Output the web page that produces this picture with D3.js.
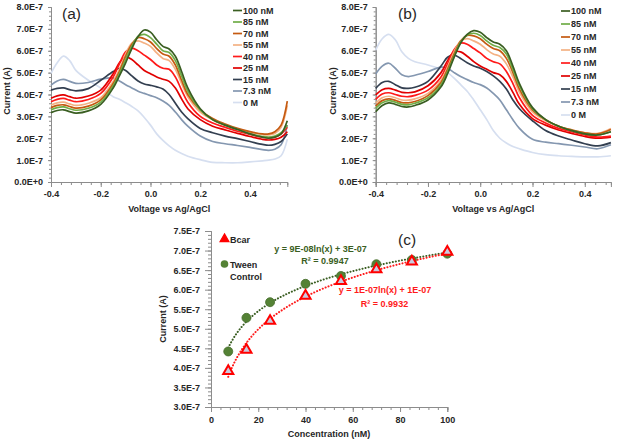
<!DOCTYPE html>
<html><head><meta charset="utf-8">
<script src="https://cdn.jsdelivr.net/npm/d3@7"></script>
<style>
html,body{margin:0;padding:0;background:#fff;}
svg{display:block;}
text{font-family:"Liberation Sans",Arial,sans-serif;fill:#262626;}
</style></head>
<body><svg id="c" width="618" height="443"></svg>
<script>
// ---------- DATA (currents in units of 1E-7 A) ----------
const seriesLabels = ["100 nM","85 nM","70 nM","55 nM","40 nM","25 nM","15 nM","7.3 nM","0 M"];
const seriesColors = ["#3a5e22","#70ad47","#c55a11","#f4b183","#ff1a1a","#e00000","#333f50","#8497b0","#d6dff0"];

const voltA = [-0.4,-0.375,-0.35,-0.325,-0.3,-0.25,-0.2,-0.15,-0.125,-0.1,-0.075,-0.05,-0.025,0,0.025,0.05,0.075,0.1,0.125,0.15,0.2,0.25,0.3,0.35,0.4,0.45,0.475,0.5,0.525,0.55];
const a100 = [3.17,3.27,3.3,3.22,3.15,3.25,3.55,4.3,4.85,5.45,6.1,6.65,6.95,6.85,6.5,6.2,6.08,5.75,5.05,4.3,3.35,2.85,2.6,2.4,2.2,2.05,2.0,2.05,2.2,2.8];
const a85  = [3.3,3.4,3.43,3.35,3.28,3.37,3.65,4.4,4.95,5.6,6.2,6.65,6.75,6.6,6.3,6.0,5.92,5.55,4.85,4.15,3.3,2.85,2.6,2.4,2.2,2.08,2.05,2.1,2.25,2.6];
const a70  = [3.4,3.5,3.53,3.45,3.38,3.47,3.75,4.5,5.05,5.75,6.3,6.6,6.55,6.4,6.1,5.85,5.75,5.35,4.65,4.0,3.3,2.9,2.65,2.45,2.3,2.2,2.2,2.3,2.6,3.7];
const a55  = [3.52,3.62,3.65,3.57,3.5,3.6,3.85,4.6,5.15,5.85,6.35,6.45,6.35,6.2,5.9,5.65,5.55,5.15,4.5,3.9,3.2,2.85,2.6,2.42,2.28,2.17,2.15,2.22,2.5,3.5];
const a40  = [3.67,3.78,3.82,3.74,3.67,3.77,4.05,4.8,5.4,5.95,6.12,6.0,5.8,5.6,5.35,5.2,5.15,4.8,4.2,3.65,3.0,2.7,2.5,2.32,2.18,2.05,2.02,2.05,2.2,2.5];
const a25  = [3.83,3.94,3.98,3.9,3.83,3.93,4.2,4.95,5.45,5.72,5.6,5.35,5.1,4.95,4.8,4.7,4.6,4.3,3.8,3.35,2.85,2.55,2.38,2.22,2.08,1.95,1.92,1.95,2.05,2.3];
const a15  = [4.2,4.28,4.3,4.22,4.17,4.27,4.65,5.05,5.2,5.1,4.85,4.62,4.48,4.42,4.35,4.25,4.0,3.6,3.2,2.9,2.45,2.25,2.1,1.98,1.85,1.72,1.68,1.72,1.85,2.2];
const a7   = [4.43,4.62,4.69,4.6,4.51,4.55,4.7,4.75,4.62,4.45,4.3,4.15,4.05,3.95,3.85,3.7,3.5,3.2,2.85,2.55,2.1,1.85,1.75,1.67,1.58,1.48,1.45,1.5,1.7,2.6];
const a0   = [4.97,5.45,5.75,5.55,5.1,4.65,4.3,3.9,3.78,3.62,3.45,3.25,2.95,2.6,2.2,1.9,1.65,1.45,1.3,1.18,1.02,0.9,0.88,0.88,0.92,0.97,1.0,1.05,1.2,1.95];

const voltB = [-0.4,-0.375,-0.35,-0.325,-0.3,-0.275,-0.25,-0.2,-0.15,-0.125,-0.1,-0.075,-0.05,-0.025,0,0.025,0.05,0.075,0.1,0.125,0.15,0.2,0.25,0.3,0.35,0.4,0.45,0.5];
const b100 = [3.21,3.5,3.62,3.55,3.45,3.43,3.5,3.75,4.35,4.95,5.7,6.35,6.75,6.92,6.85,6.6,6.4,6.3,6.0,5.3,4.5,3.4,2.85,2.55,2.35,2.2,2.15,2.3];
const b85  = [3.37,3.62,3.72,3.65,3.55,3.53,3.6,3.85,4.45,5.05,5.75,6.4,6.72,6.8,6.7,6.45,6.25,6.15,5.85,5.15,4.4,3.35,2.85,2.55,2.35,2.2,2.15,2.3];
const b70  = [3.47,3.72,3.8,3.73,3.63,3.62,3.68,3.95,4.55,5.15,5.85,6.45,6.7,6.68,6.55,6.3,6.1,6.0,5.65,5.0,4.25,3.3,2.85,2.55,2.38,2.25,2.2,2.4];
const b55  = [3.6,3.85,3.92,3.85,3.75,3.74,3.8,4.05,4.65,5.25,5.95,6.45,6.55,6.45,6.3,6.05,5.85,5.75,5.4,4.8,4.1,3.2,2.8,2.55,2.38,2.25,2.22,2.45];
const b40  = [3.78,4.02,4.08,4.0,3.92,3.9,3.96,4.2,4.8,5.4,6.05,6.35,6.3,6.1,5.9,5.65,5.5,5.4,5.05,4.5,3.85,3.05,2.7,2.45,2.3,2.15,2.05,2.1];
const b25  = [3.98,4.22,4.28,4.2,4.1,4.08,4.12,4.4,5.0,5.55,5.95,5.95,5.75,5.5,5.3,5.15,5.0,4.9,4.6,4.1,3.55,2.9,2.6,2.38,2.22,2.08,2.0,2.05];
const b15  = [4.28,4.55,4.6,4.45,4.3,4.28,4.33,4.6,5.3,5.7,5.8,5.65,5.45,5.3,5.2,5.05,4.85,4.6,4.25,3.75,3.35,2.8,2.35,2.1,1.92,1.75,1.65,1.8];
const b7   = [4.94,5.3,5.43,5.2,4.9,4.82,4.88,5.05,5.25,5.2,5.0,4.82,4.68,4.55,4.45,4.3,4.05,3.75,3.3,2.85,2.45,1.95,1.82,1.75,1.68,1.6,1.52,1.7];
const b0   = [6.03,6.55,6.75,6.5,5.95,5.65,5.5,5.35,5.15,5.0,4.75,4.45,4.15,3.75,3.3,2.85,2.35,2.0,1.78,1.62,1.52,1.35,1.25,1.2,1.17,1.15,1.15,1.2];

const yTicksAB = [0,1,2,3,4,5,6,7,8];
const yTickLabelsAB = ["0.0E+0","1.0E-7","2.0E-7","3.0E-7","4.0E-7","5.0E-7","6.0E-7","7.0E-7","8.0E-7"];
const xTicksAB = [-0.4,-0.2,0,0.2,0.4];
const xTickLabelsAB = ["-0.4","-0.2","0.0","0.2","0.4"];

const concC = [7.3,15,25,40,55,70,85,100];
const bcarC = [3.92,4.46,5.2,5.84,6.22,6.52,6.72,6.97];
const tweenC = [4.42,5.28,5.68,6.15,6.35,6.65,6.76,6.92];
const yTicksC = [3.0,3.5,4.0,4.5,5.0,5.5,6.0,6.5,7.0,7.5];
const yTickLabelsC = ["3.0E-7","3.5E-7","4.0E-7","4.5E-7","5.0E-7","5.5E-7","6.0E-7","6.5E-7","7.0E-7","7.5E-7"];
const xTicksC = [0,20,40,60,80,100];
const eqTween = ["y = 9E-08ln(x) + 3E-07","R\u00b2 = 0.9947"];
const eqBcar = ["y = 1E-07ln(x) + 1E-07","R\u00b2 = 0.9932"];

// ---------- DRAW ----------
const svg = d3.select("#c");
const AX = "#8c8c8c";
const F = "Liberation Sans, Arial, sans-serif";

function styleAxis(g){
  g.select(".domain").attr("stroke",AX).attr("stroke-width",1);
  g.selectAll(".tick line").attr("stroke",AX);
  g.selectAll(".tick text").attr("font-family",F).attr("font-weight","bold").attr("font-size",9).attr("fill","#262626");
}

function cvPanel(opt){
  const x = d3.scaleLinear().domain(opt.xDom).range(opt.xRange);
  const y = d3.scaleLinear().domain([0,8]).range([182,7]);
  const g = svg.append("g");
  const minor = d3.range(Math.round(opt.xDom[0]*100), Math.round(opt.xDom[1]*100)+1, 4).map(v=>v/100);
  g.append("g").attr("transform",`translate(0,${y(0)})`)
    .call(d3.axisBottom(x).tickValues(minor).tickSize(3).tickFormat(""))
    .call(styleAxis);
  g.append("g").attr("transform",`translate(0,${y(0)})`)
    .call(d3.axisBottom(x).tickValues(xTicksAB).tickSize(5).tickPadding(4).tickFormat((d,i)=>xTickLabelsAB[i]))
    .call(styleAxis);
  g.append("g").attr("transform",`translate(${x(opt.xDom[0])},0)`)
    .call(d3.axisLeft(y).tickValues(d3.range(0,41,1).map(v=>v/5)).tickSize(2).tickFormat(""))
    .call(styleAxis);
  g.append("g").attr("transform",`translate(${x(opt.xDom[0])},0)`)
    .call(d3.axisLeft(y).tickValues(yTicksAB).tickSize(3).tickPadding(5).tickFormat((d,i)=>yTickLabelsAB[i]))
    .call(styleAxis);
  const line = d3.line().x((d,i)=>x(opt.volts[i])).y(d=>y(d)).curve(d3.curveCatmullRom.alpha(0.5));
  for(let k=opt.series.length-1;k>=0;k--){
    g.append("path").attr("d",line(opt.series[k])).attr("fill","none")
      .attr("stroke",seriesColors[k]).attr("stroke-width",1.7);
  }
  seriesLabels.forEach((lab,i)=>{
    const yy = opt.legY + i*opt.legDy;
    g.append("line").attr("x1",opt.legX).attr("x2",opt.legX+9).attr("y1",yy).attr("y2",yy)
      .attr("stroke",seriesColors[i]).attr("stroke-width",1.7);
    g.append("text").attr("x",opt.legX+10).attr("y",yy+3.3).attr("font-size",9).attr("font-weight","bold").text(lab);
  });
  g.append("text").attr("x",opt.tagX).attr("y",18.5).attr("font-size",15.5).text(opt.tag);
  g.append("text").attr("x",(x(opt.xDom[0])+x(opt.xDom[1]))/2).attr("y",212).attr("text-anchor","middle")
    .attr("font-size",9).attr("font-weight","bold").text("Voltage vs Ag/AgCl");
  g.append("text").attr("transform",`translate(${opt.ylabX},${opt.ylabY}) rotate(-90)`).attr("text-anchor","middle")
    .attr("font-size",9).attr("font-weight","bold").text("Current (A)");
}

cvPanel({xDom:[-0.4,0.55], xRange:[51,287.3], volts:voltA, series:[a100,a85,a70,a55,a40,a25,a15,a7,a0],
  legX:233, legY:10.5, legDy:11.5, tag:"(a)", tagX:62, ylabX:10, ylabY:91});
cvPanel({xDom:[-0.4,0.5], xRange:[375.7,610.9], volts:voltB, series:[b100,b85,b70,b55,b40,b25,b15,b7,b0],
  legX:561, legY:11, legDy:13, tag:"(b)", tagX:398, ylabX:336, ylabY:91});

// ---------- panel c ----------
(function(){
  const x = d3.scaleLinear().domain([0,100]).range([211,447.3]);
  const y = d3.scaleLinear().domain([3.0,7.5]).range([407,231]);
  const g = svg.append("g");
  g.append("g").attr("transform",`translate(0,${y(3.0)})`)
    .call(d3.axisBottom(x).tickValues(d3.range(0,101,4)).tickSize(3).tickFormat("")).call(styleAxis);
  g.append("g").attr("transform",`translate(0,${y(3.0)})`)
    .call(d3.axisBottom(x).tickValues(xTicksC).tickSize(5).tickPadding(5)).call(styleAxis);
  g.append("g").attr("transform",`translate(${x(0)},0)`)
    .call(d3.axisLeft(y).tickValues(d3.range(30,76,1).map(v=>v/10)).tickSize(3).tickFormat("")).call(styleAxis);
  g.append("g").attr("transform",`translate(${x(0)},0)`)
    .call(d3.axisLeft(y).tickValues(yTicksC).tickSize(6).tickPadding(5).tickFormat((d,i)=>yTickLabelsC[i])).call(styleAxis);

  function fit(ys){
    const lx = concC.map(Math.log);
    const mx = d3.mean(lx), my = d3.mean(ys);
    const a = d3.sum(lx.map((v,i)=>(v-mx)*(ys[i]-my)))/d3.sum(lx.map(v=>(v-mx)*(v-mx)));
    return {a, b: my - a*mx};
  }
  const fx = d3.range(7.3,100.01,0.5);
  const tl = d3.line().x(d=>x(d[0])).y(d=>y(d[1]));
  [[tweenC,"#3a5e22"],[bcarC,"#ff1a1a"]].forEach(([ys,col])=>{
    const f = fit(ys);
    g.append("path").attr("d",tl(fx.map(c=>[c,f.a*Math.log(c)+f.b]))).attr("fill","none")
      .attr("stroke",col).attr("stroke-width",2).attr("stroke-dasharray","0.1 3").attr("stroke-linecap","round");
  });
  g.selectAll("circle.tw").data(concC).enter().append("circle")
    .attr("cx",d=>x(d)).attr("cy",(d,i)=>y(tweenC[i])).attr("r",4.5)
    .attr("fill","#548235").attr("stroke","#466d2c").attr("stroke-width",0.8);
  const tri = d3.symbol().type(d3.symbolTriangle).size(44);
  g.selectAll("path.bc").data(concC).enter().append("path")
    .attr("transform",(d,i)=>`translate(${x(d)},${y(bcarC[i])})`).attr("d",tri())
    .attr("fill","#c9cbe0").attr("stroke","#ff0000").attr("stroke-width",2);

  g.append("path").attr("transform","translate(224.5,239)").attr("d",d3.symbol().type(d3.symbolTriangle).size(34)())
    .attr("fill","#ff0000").attr("stroke","#ff0000").attr("stroke-width",1.2);
  g.append("text").attr("x",230).attr("y",242.5).attr("font-size",9).attr("font-weight","bold").text("Bcar");
  g.append("circle").attr("cx",224.5).attr("cy",264).attr("r",3.8).attr("fill","#548235");
  g.append("text").attr("x",230).attr("y",267.5).attr("font-size",9).attr("font-weight","bold").text("Tween");
  g.append("text").attr("x",230).attr("y",280).attr("font-size",9).attr("font-weight","bold").text("Control");

  g.append("text").attr("x",320.5).attr("y",251.5).attr("text-anchor","middle").attr("font-size",9)
    .attr("font-weight","bold").style("fill","#3a5e22").text(eqTween[0]);
  g.append("text").attr("x",325).attr("y",264).attr("text-anchor","middle").attr("font-size",9)
    .attr("font-weight","bold").style("fill","#3a5e22").text(eqTween[1]);
  g.append("text").attr("x",385).attr("y",293).attr("text-anchor","middle").attr("font-size",9)
    .attr("font-weight","bold").style("fill","#ff1a1a").text(eqBcar[0]);
  g.append("text").attr("x",384.5).attr("y",306.5).attr("text-anchor","middle").attr("font-size",9)
    .attr("font-weight","bold").style("fill","#ff1a1a").text(eqBcar[1]);

  g.append("text").attr("x",398).attr("y",245).attr("font-size",15.5).text("(c)");
  g.append("text").attr("x",329).attr("y",437).attr("text-anchor","middle").attr("font-size",9)
    .attr("font-weight","bold").text("Concentration (nM)");
  g.append("text").attr("transform","translate(166,319) rotate(-90)").attr("text-anchor","middle")
    .attr("font-size",9).attr("font-weight","bold").text("Current (A)");
})();
</script></body></html>
